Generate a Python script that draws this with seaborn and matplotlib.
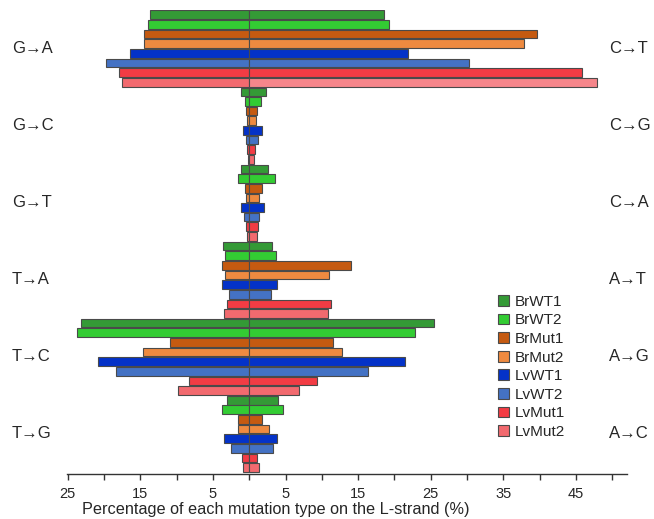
import matplotlib
matplotlib.use("Agg")
import matplotlib.pyplot as plt
import matplotlib.transforms as mtransforms
from matplotlib.patches import Patch
import seaborn as sns
import pandas as pd

# ---- data ----
left_groups = ["G→A", "G→C", "G→T", "T→A", "T→C", "T→G"]
right_groups = ["C→T", "C→G", "C→A", "A→T", "A→G", "A→C"]
samples = ["BrWT1", "BrWT2", "BrMut1", "BrMut2", "LvWT1", "LvWT2", "LvMut1", "LvMut2"]

# left side (G/T-origin mutations), percent
brwt1_left = [13.7, 1.1, 1.1, 3.6, 23.2, 3.1]
brwt2_left = [13.9, 0.6, 1.5, 3.35, 23.7, 3.7]
brmut1_left = [14.5, 0.4, 0.6, 3.8, 10.9, 1.6]
brmut2_left = [14.5, 0.25, 0.5, 3.35, 14.6, 1.55]
lvwt1_left = [16.5, 0.9, 1.1, 3.7, 20.8, 3.5]
lvwt2_left = [19.7, 0.45, 0.7, 2.75, 18.3, 2.5]
lvmut1_left = [18.0, 0.3, 0.5, 3.0, 8.3, 0.95]
lvmut2_left = [17.5, 0.15, 0.3, 3.45, 9.8, 0.85]

# right side (C/A-origin mutations), percent
brwt1_right = [18.5, 2.3, 2.55, 3.1, 25.5, 4.0]
brwt2_right = [19.2, 1.55, 3.5, 3.75, 22.9, 4.7]
brmut1_right = [39.6, 1.1, 1.7, 14.0, 11.6, 1.7]
brmut2_right = [37.8, 0.95, 1.4, 11.0, 12.8, 2.65]
lvwt1_right = [21.9, 1.8, 2.0, 3.8, 21.4, 3.8]
lvwt2_right = [30.3, 1.2, 1.4, 3.0, 16.3, 3.25]
lvmut1_right = [45.9, 0.85, 1.2, 11.2, 9.35, 1.0]
lvmut2_right = [47.9, 0.7, 1.05, 10.9, 6.9, 1.4]

colors = ["#349A36", "#33CC33", "#C55A11", "#EE8A40",
          "#0432C8", "#4472C4", "#F23C44", "#F26A6F"]

tick_values = [-25, -15, -5, 5, 15, 25, 35, 45]
tick_labels = ["25", "15", "5", "5", "15", "25", "35", "45"]

lefts = [brwt1_left, brwt2_left, brmut1_left, brmut2_left,
         lvwt1_left, lvwt2_left, lvmut1_left, lvmut2_left]
rights = [brwt1_right, brwt2_right, brmut1_right, brmut2_right,
          lvwt1_right, lvwt2_right, lvmut1_right, lvmut2_right]

rows = []
for s, lv, rv in zip(samples, lefts, rights):
    for i, g in enumerate(left_groups):
        rows.append({"group": g, "sample": s, "left": -lv[i], "right": rv[i]})
df = pd.DataFrame(rows)

# ---- plot ----
sns.set_style("white")
plt.rcParams["font.family"] = ["Liberation Sans", "DejaVu Sans"]

fig = plt.figure(figsize=(6.54, 5.19), dpi=100)
ax = fig.add_axes([67.3 / 654, 1 - 474 / 519, 559.4 / 654, 464 / 519])

common = dict(y="group", hue="sample", order=left_groups, hue_order=samples,
              palette=colors, orient="h", width=1.0, gap=0.1, dodge=True,
              errorbar=None, legend=False, saturation=1,
              edgecolor="#4a4a4a", linewidth=0.8)
sns.barplot(data=df, x="left", ax=ax, **common)
sns.barplot(data=df, x="right", ax=ax, **common)

# slightly lighter LvMut2 C→T bar as in the reference
ax.containers[-1][0].set_facecolor("#F6868B")

ax.set_xlim(-25.07, 52)
ax.set_ylim(5.52, -0.5)
ax.set_ylabel("")
ax.set_yticks([])
for side in ["top", "right", "left"]:
    ax.spines[side].set_visible(False)
ax.spines["bottom"].set_color("#333333")
ax.spines["bottom"].set_linewidth(1.0)

all_ticks = list(range(-25, 55, 5))
label_map = dict(zip(tick_values, tick_labels))
ax.set_xticks(all_ticks)
ax.set_xticklabels([label_map.get(v, "") for v in all_ticks], fontsize=10.5)
ax.tick_params(axis="x", direction="out", length=4, width=1, color="#333333", pad=5,
               bottom=True)
ax.set_xlabel("Percentage of each mutation type on the L-strand (%)", fontsize=11.7)
ax.xaxis.set_label_coords(0.373, -0.061)

trans = mtransforms.blended_transform_factory(fig.transFigure, ax.transData)
for i, (lg, rg) in enumerate(zip(left_groups, right_groups)):
    ax.text(12 / 654, i, lg, transform=trans, ha="left", va="center", fontsize=12)
    ax.text(609 / 654, i, rg, transform=trans, ha="left", va="center", fontsize=12)

handles = [Patch(facecolor=c, edgecolor="#4a4a4a", linewidth=0.8) for c in colors]
fig.legend(handles, samples, loc="upper left", bbox_to_anchor=(0.761, 0.432),
           frameon=False, fontsize=11, handlelength=0.72, handleheight=0.72,
           handletextpad=0.4, labelspacing=0.3, borderpad=0, borderaxespad=0)

fig.savefig("out.png", dpi=100)
